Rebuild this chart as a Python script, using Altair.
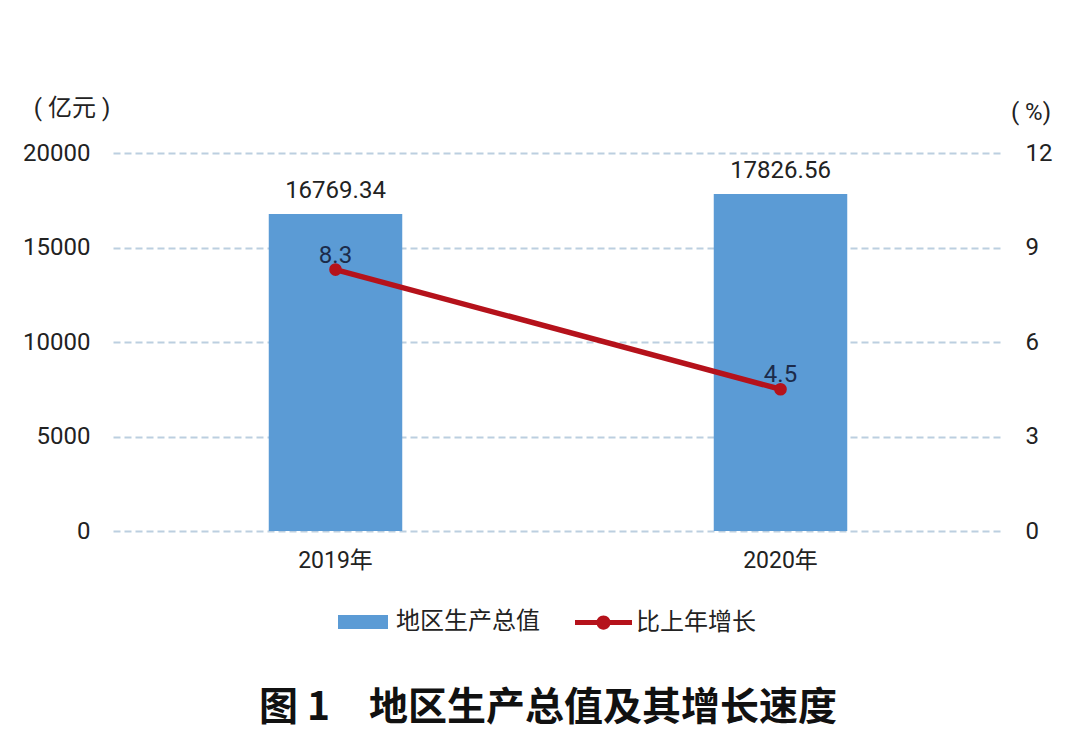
import altair as alt
import pandas as pd

years = ["2019年", "2020年"]
gdp = [16769.34, 17826.56]
growth = [8.3, 4.5]
series_bar = "地区生产总值"
series_line = "比上年增长"
left_ticks = [0, 5000, 10000, 15000, 20000]
right_ticks = [0, 3, 6, 9, 12]
unit_left = "( 亿元 )"
unit_right = "( %)"
fig_title = "图 1\u3000地区生产总值及其增长速度"

FONT = "Roboto, 'Noto Sans CJK SC', sans-serif"
CJK = "'Noto Sans CJK SC', sans-serif"
BLUE = "#5b9bd5"
RED = "#b5121b"
GRID = "#bccfe0"
TXT = "#222222"

df = pd.DataFrame({
    "year": years,
    "gdp": gdp,
    "growth": growth,
    "s1": [series_bar] * len(years),
    "s2": [series_line] * len(years),
})

x_enc = alt.X(
    "year:N",
    sort=years,
    scale=alt.Scale(paddingInner=0.7, paddingOuter=0.35),
    axis=alt.Axis(title=None, labelAngle=0, domain=False, ticks=False,
                  labelFontSize=23, labelPadding=18, labelColor=TXT, labelFont=FONT),
)

y_left = alt.Y("gdp:Q", scale=alt.Scale(domain=[0, 20000], nice=False),
               axis=alt.Axis(title=None, orient="left", values=left_ticks, grid=True,
                             format="d", gridDash=[7, 4], gridColor=GRID, gridWidth=2,
                             domain=False, ticks=False, labelFontSize=24,
                             labelPadding=23, labelColor=TXT, labelFont=FONT))

y_right = alt.Y("growth:Q", scale=alt.Scale(domain=[0, 12], nice=False),
                axis=alt.Axis(title=None, orient="right", values=right_ticks, grid=False,
                              format="d", domain=False, ticks=False, labelFontSize=24,
                              labelPadding=22, labelColor=TXT, labelFont=FONT))

base = alt.Chart(df)

bar_path = "M-1,-0.28 H1 V0.28 H-1 Z"
line_path = ("M-1,-0.09 H1 V0.09 H-1 Z "
             "M0.25,0 A0.25,0.25 0 1,1 -0.25,0 A0.25,0.25 0 1,1 0.25,0 Z")

bars = base.mark_bar().encode(
    x=x_enc,
    y=y_left,
    color=alt.Color("s1:N", scale=alt.Scale(domain=[series_bar], range=[BLUE]),
                    legend=alt.Legend(title=None, orient="none", legendX=225, legendY=444,
                                      symbolType=bar_path, symbolSize=2500,
                                      symbolStrokeWidth=0, labelFontSize=24,
                                      labelFont=CJK, labelColor=TXT, labelOffset=8,
                                      padding=0)),
)

bar_text = base.mark_text(dy=-16, baseline="alphabetic", fontSize=24, font=FONT,
                          color=TXT).encode(
    x=x_enc,
    y=y_left,
    text=alt.Text("gdp:Q", format=".2f"),
)

line = base.mark_line(color=RED, strokeWidth=5.5).encode(x=x_enc, y=y_right)

points = base.mark_point(filled=True, size=160, opacity=1).encode(
    x=x_enc, y=y_right,
    color=alt.Color("s2:N", scale=alt.Scale(domain=[series_line], range=[RED]),
                    legend=alt.Legend(title=None, orient="none", legendX=462, legendY=441,
                                      symbolType=line_path, symbolSize=3249,
                                      symbolStrokeWidth=0, labelFontSize=24,
                                      labelFont=CJK, labelColor=TXT, labelOffset=4,
                                      padding=0)),
)

line_text = base.mark_text(dy=-7, baseline="alphabetic", fontSize=24, font=FONT,
                           color="#1c2b4a").encode(
    x=x_enc, y=y_right, text=alt.Text("growth:Q", format=".1f"),
)

left = alt.layer(bars, bar_text)
right = alt.layer(line, points, line_text)

unit_l = alt.Chart(pd.DataFrame({"t": [unit_left]})).mark_text(
    fontSize=24, font=FONT, color=TXT, align="center", baseline="alphabetic"
).encode(x=alt.value(-41), y=alt.value(-37), text="t:N")
unit_r = alt.Chart(pd.DataFrame({"t": [unit_right]})).mark_text(
    fontSize=24, font=FONT, color=TXT, align="center", baseline="alphabetic"
).encode(x=alt.value(918), y=alt.value(-33), text="t:N")
title = alt.Chart(pd.DataFrame({"t": [fig_title]})).mark_text(
    fontSize=39, font=CJK, fontWeight="bold", color="#111111", align="center",
    baseline="alphabetic"
).encode(x=alt.value(435), y=alt.value(567), text="t:N")

chart = alt.layer(left, right, unit_l, unit_r, title).resolve_scale(
    y="independent", color="independent"
).properties(
    width=890, height=378,
    autosize=alt.AutoSizeParams(type="none"),
    padding={"left": 105, "top": 145, "right": 69, "bottom": 213},
).configure_view(stroke=None)

chart.save("out.html", embed_options={"renderer": "svg", "actions": False})
